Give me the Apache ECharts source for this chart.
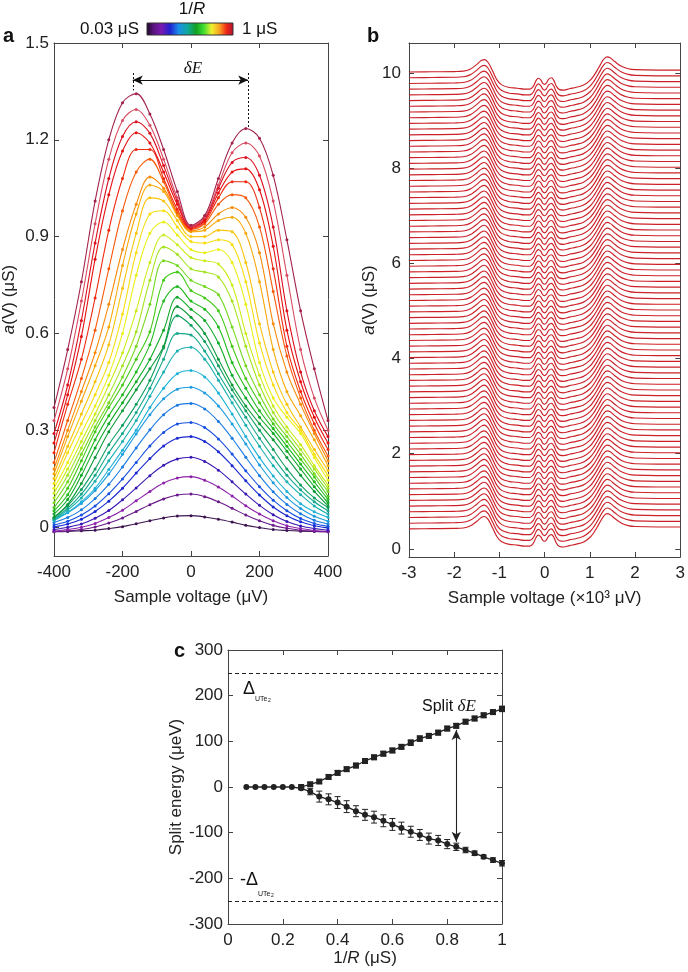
<!DOCTYPE html>
<html>
<head>
<meta charset="utf-8">
<script src="https://cdn.jsdelivr.net/npm/echarts@6/dist/echarts.min.js"></script>
<style>
  html, body { margin: 0; padding: 0; background: #fff; }
  #chart { width: 688px; height: 972px; }
</style>
</head>
<body>
<div id="chart"></div>
<script>
// ---- panel a: a(V) curves, one per 1/R step ----
const aX = [-400, -360, -320, -280, -240, -200, -160, -120, -80, -40, 0, 40, 80, 120, 160, 200, 240, 280, 320, 360, 400]
const a01 = [-0.015, -0.014, -0.012, -0.010, -0.005, 0.001, 0.010, 0.019, 0.028, 0.034, 0.035, 0.031, 0.024, 0.015, 0.005, -0.002, -0.008, -0.011, -0.013, -0.014, -0.015]
const a02 = [-0.014, -0.012, -0.008, 0.000, 0.012, 0.028, 0.048, 0.069, 0.087, 0.099, 0.102, 0.094, 0.078, 0.058, 0.037, 0.019, 0.005, -0.004, -0.010, -0.013, -0.015]
const a03 = [-0.013, -0.008, -0.001, 0.011, 0.029, 0.052, 0.081, 0.110, 0.136, 0.152, 0.156, 0.145, 0.124, 0.096, 0.066, 0.040, 0.019, 0.004, -0.005, -0.011, -0.014]
const a04 = [-0.008, -0.001, 0.009, 0.027, 0.051, 0.084, 0.121, 0.159, 0.191, 0.211, 0.216, 0.203, 0.176, 0.140, 0.102, 0.067, 0.038, 0.017, 0.003, -0.005, -0.010]
const a05 = [0.000, 0.009, 0.024, 0.048, 0.080, 0.120, 0.167, 0.212, 0.251, 0.275, 0.280, 0.265, 0.233, 0.190, 0.143, 0.099, 0.062, 0.035, 0.016, 0.004, -0.003]
const a06 = [0.006, 0.018, 0.037, 0.065, 0.103, 0.149, 0.200, 0.251, 0.293, 0.319, 0.324, 0.308, 0.273, 0.226, 0.174, 0.125, 0.083, 0.050, 0.026, 0.011, 0.002]
const a07 = [0.014, 0.029, 0.053, 0.088, 0.132, 0.186, 0.245, 0.301, 0.348, 0.377, 0.383, 0.366, 0.327, 0.275, 0.216, 0.159, 0.109, 0.070, 0.041, 0.021, 0.009]
const a08 = [0.025, 0.044, 0.073, 0.113, 0.164, 0.225, 0.288, 0.348, 0.397, 0.427, 0.433, 0.415, 0.375, 0.319, 0.257, 0.192, 0.137, 0.091, 0.057, 0.033, 0.018]
const a09 = [0.020, 0.045, 0.078, 0.120, 0.178, 0.238, 0.300, 0.370, 0.430, 0.475, 0.485, 0.465, 0.415, 0.350, 0.280, 0.215, 0.158, 0.110, 0.072, 0.047, 0.030]
const a10 = [0.022, 0.052, 0.090, 0.142, 0.205, 0.265, 0.330, 0.405, 0.480, 0.545, 0.557, 0.520, 0.455, 0.385, 0.315, 0.250, 0.190, 0.140, 0.100, 0.065, 0.040]
const a11 = [0.025, 0.058, 0.102, 0.160, 0.230, 0.290, 0.355, 0.430, 0.520, 0.600, 0.595, 0.545, 0.475, 0.405, 0.340, 0.275, 0.215, 0.160, 0.115, 0.078, 0.050]
const a12 = [0.028, 0.066, 0.116, 0.180, 0.255, 0.315, 0.380, 0.455, 0.555, 0.655, 0.625, 0.575, 0.500, 0.425, 0.360, 0.300, 0.240, 0.180, 0.130, 0.090, 0.060]
const a13 = [0.030, 0.070, 0.135, 0.215, 0.295, 0.360, 0.425, 0.490, 0.560, 0.683, 0.650, 0.600, 0.520, 0.440, 0.375, 0.320, 0.270, 0.215, 0.160, 0.110, 0.065]
const a14 = [0.040, 0.085, 0.160, 0.245, 0.320, 0.385, 0.450, 0.520, 0.610, 0.712, 0.675, 0.640, 0.570, 0.470, 0.400, 0.340, 0.290, 0.235, 0.180, 0.125, 0.075]
const a15 = [0.050, 0.100, 0.180, 0.270, 0.345, 0.410, 0.480, 0.565, 0.700, 0.745, 0.700, 0.675, 0.620, 0.510, 0.430, 0.360, 0.305, 0.250, 0.195, 0.140, 0.085]
const a16 = [0.060, 0.120, 0.205, 0.295, 0.370, 0.440, 0.520, 0.605, 0.765, 0.790, 0.733, 0.710, 0.670, 0.560, 0.460, 0.385, 0.320, 0.265, 0.210, 0.155, 0.095]
const a17 = [0.075, 0.140, 0.225, 0.310, 0.385, 0.465, 0.560, 0.690, 0.825, 0.810, 0.765, 0.745, 0.720, 0.620, 0.500, 0.410, 0.335, 0.280, 0.225, 0.165, 0.110]
const a18 = [0.090, 0.160, 0.245, 0.330, 0.410, 0.500, 0.605, 0.765, 0.868, 0.845, 0.800, 0.790, 0.775, 0.700, 0.560, 0.440, 0.355, 0.295, 0.240, 0.180, 0.120]
const a19 = [0.105, 0.180, 0.265, 0.350, 0.440, 0.540, 0.670, 0.820, 0.905, 0.875, 0.835, 0.825, 0.815, 0.750, 0.600, 0.470, 0.375, 0.310, 0.255, 0.190, 0.130]
const a20 = [0.120, 0.200, 0.290, 0.375, 0.470, 0.600, 0.780, 0.910, 0.945, 0.905, 0.860, 0.850, 0.860, 0.820, 0.690, 0.510, 0.400, 0.340, 0.290, 0.215, 0.145]
const a21 = [0.135, 0.230, 0.320, 0.410, 0.510, 0.660, 0.850, 0.970, 0.980, 0.930, 0.885, 0.880, 0.890, 0.875, 0.760, 0.570, 0.440, 0.355, 0.300, 0.225, 0.160]
const a22 = [0.150, 0.250, 0.350, 0.450, 0.565, 0.740, 0.910, 1.020, 1.010, 0.950, 0.900, 0.900, 0.920, 0.915, 0.820, 0.630, 0.480, 0.380, 0.310, 0.240, 0.175]
const a23 = [0.165, 0.280, 0.390, 0.500, 0.620, 0.810, 0.970, 1.060, 1.040, 0.965, 0.915, 0.920, 0.950, 0.960, 0.910, 0.760, 0.550, 0.420, 0.345, 0.270, 0.190]
const a24 = [0.180, 0.300, 0.420, 0.540, 0.690, 0.860, 1.000, 1.085, 1.050, 0.970, 0.918, 0.930, 0.970, 0.990, 0.960, 0.850, 0.630, 0.480, 0.380, 0.290, 0.205]
const a25 = [0.200, 0.330, 0.460, 0.610, 0.800, 0.980, 1.100, 1.140, 1.070, 0.975, 0.922, 0.940, 1.000, 1.030, 1.020, 0.930, 0.730, 0.530, 0.400, 0.300, 0.220]
const a26 = [0.230, 0.380, 0.520, 0.710, 0.920, 1.080, 1.170, 1.170, 1.080, 0.985, 0.925, 0.945, 1.020, 1.070, 1.070, 0.990, 0.800, 0.560, 0.420, 0.320, 0.240]
const a27 = [0.260, 0.410, 0.590, 0.830, 1.030, 1.165, 1.222, 1.190, 1.100, 1.000, 0.928, 0.950, 1.035, 1.100, 1.110, 1.045, 0.870, 0.610, 0.450, 0.340, 0.260]
const a28 = [0.290, 0.440, 0.640, 0.880, 1.080, 1.210, 1.256, 1.220, 1.120, 1.010, 0.930, 0.955, 1.050, 1.130, 1.145, 1.090, 0.930, 0.670, 0.480, 0.360, 0.280]
const a29 = [0.330, 0.490, 0.700, 0.940, 1.140, 1.260, 1.294, 1.245, 1.140, 1.020, 0.932, 0.960, 1.060, 1.160, 1.190, 1.150, 1.010, 0.780, 0.550, 0.400, 0.300]
const a30 = [0.370, 0.550, 0.760, 1.010, 1.200, 1.315, 1.343, 1.280, 1.170, 1.040, 0.935, 0.965, 1.080, 1.190, 1.235, 1.205, 1.090, 0.890, 0.670, 0.490, 0.330]
const aCurves = [a01, a02, a03, a04, a05, a06, a07, a08, a09, a10, a11, a12, a13, a14, a15,
  a16, a17, a18, a19, a20, a21, a22, a23, a24, a25, a26, a27, a28, a29, a30]
const aTicks = [0, 0.3, 0.6, 0.9, 1.2, 1.5]
// peak positions marked by the deltaE arrow
const aPeaks = [-170, 167]

// ---- panel b: stacked traces (x in 10^3 uV) ----
const bX = [-3, -2.5, -2, -1.8, -1.65, -1.5, -1.4, -1.33, -1.25, -1.15, -1.05, -0.95, -0.8, -0.6, -0.45, -0.33,
  -0.25, -0.19, -0.14, -0.09, -0.04, 0, 0.04, 0.09, 0.15, 0.2, 0.26, 0.33, 0.42, 0.55, 0.7, 0.85, 1.0, 1.1,
  1.2, 1.3, 1.38, 1.45, 1.55, 1.7, 1.85, 2.0, 2.5, 3]
const bProfile = [0, 0.005, 0.01, 0.02, 0.06, 0.16, 0.24, 0.26, 0.20, 0.02, -0.17, -0.27, -0.32, -0.34, -0.36, -0.36,
  -0.30, -0.18, -0.13, -0.16, -0.24, -0.26, -0.23, -0.15, -0.12, -0.17, -0.30, -0.37, -0.38, -0.35, -0.32, -0.28,
  -0.18, -0.06, 0.10, 0.26, 0.32, 0.30, 0.22, 0.12, 0.07, 0.05, 0.04, 0.04]
const bOffsets = [0.42, 0.54, 0.66, 0.78, 0.90, 1.02, 1.14, 1.26, 1.38, 1.50, 1.62, 1.74, 1.86, 1.98, 2.10, 2.22,
  2.34, 2.46, 2.58, 2.70, 2.82, 2.94, 3.06, 3.18, 3.30, 3.42, 3.54, 3.66, 3.78, 3.90, 4.02, 4.14, 4.26, 4.38,
  4.50, 4.62, 4.74, 4.86, 4.98, 5.10, 5.22, 5.34, 5.46, 5.58, 5.70, 5.82, 5.94, 6.06, 6.18, 6.30, 6.42, 6.54,
  6.66, 6.78, 6.90, 7.02, 7.14, 7.26, 7.38, 7.50, 7.62, 7.74, 7.86, 7.98, 8.10, 8.22, 8.34, 8.46, 8.58, 8.70,
  8.82, 8.94, 9.06, 9.18, 9.30, 9.42, 9.54, 9.66, 9.78, 9.90, 10.02]
const bTicks = [0, 2, 4, 6, 8, 10]

// ---- panel c: split energy vs 1/R ----
const cX = [0.067, 0.1, 0.133, 0.167, 0.2, 0.233, 0.267, 0.3, 0.333, 0.367, 0.4, 0.433, 0.467, 0.5, 0.533,
  0.567, 0.6, 0.633, 0.667, 0.7, 0.733, 0.767, 0.8, 0.833, 0.867, 0.9, 0.933, 0.967, 1.0]
const cUpper = [0, 0, 0, 0, 0, 0, 0, 6, 12, 22, 31, 39, 47, 57, 65, 73, 80, 88, 97, 106, 112, 119, 128, 134, 143, 150, 157, 164, 171]
const cUpperErr = [0, 0, 0, 0, 0, 0, 2, 4, 4, 5, 5, 5, 5, 5, 5, 5, 5, 5, 6, 6, 5, 5, 5, 5, 5, 5, 5, 5, 6]
const cLower = [0, 0, 0, 0, 0, 0, -3, -10, -21, -27, -34, -43, -53, -61, -66, -74, -82, -90, -98, -105, -113, -117, -125, -131, -138, -145, -153, -160, -167]
const cLowerErr = [0, 0, 0, 0, 0, 0, 3, 7, 12, 12, 13, 13, 12, 12, 13, 13, 13, 13, 12, 12, 12, 11, 10, 8, 6, 5, 4, 5, 6]
const cGap = [250, -250]
const cArrow = { x: 0.833, from: 125, to: -120 }

// ---- styles ----
const FONT = '"Liberation Sans", Arial, sans-serif'
const SERIF = '"Liberation Serif", "DejaVu Serif", serif'
const aColors = ['#3c1450', '#6a1a8a', '#8c22aa', '#3a18b4', '#1a2ad0', '#1850e2', '#1a7ae2', '#1e9ce0',
  '#1eb2d6', '#1cb0b0', '#16a88c', '#12a062', '#0e9a3a', '#10aa28', '#22ba20', '#46ca18', '#74d820',
  '#a4e420', '#ccec1c', '#eaf016', '#f8de10', '#f8c40e', '#f8a808', '#f88a08', '#f85a0a', '#f02a10',
  '#e61010', '#dc1020', '#d84a62', '#a2224a']
const bColor = '#cc2129'
const ink = '#222'
const FS = 17

const chart = echarts.init(document.getElementById('chart'))

const tickStyle = { inside: true, length: 5, lineStyle: { color: '#444' } }
const lineStyle = { onZero: false, lineStyle: { color: '#444', width: 1 } }
const labelStyle = { fontFamily: FONT, fontSize: FS, color: ink }

function xPair(grid, min, max, interval, name, nameGap, margin, rich) {
  return [
    {
      gridIndex: grid, type: 'value', min, max, interval, position: 'bottom',
      axisLine: lineStyle, axisTick: tickStyle, splitLine: { show: false },
      axisLabel: { ...labelStyle, margin },
      name, nameLocation: 'middle', nameGap,
      nameTextStyle: { fontFamily: FONT, fontSize: FS, color: ink, rich },
    },
    {
      gridIndex: grid, type: 'value', min, max, interval, position: 'top',
      axisLine: lineStyle, axisTick: tickStyle, splitLine: { show: false },
      axisLabel: { show: false },
    },
  ]
}

function yPair(grid, min, max, ticks, name, nameGap, margin, rich) {
  const t = ticks ? { customValues: ticks } : {}
  return [
    {
      gridIndex: grid, type: 'value', min, max, position: 'left',
      interval: ticks ? undefined : 100,
      axisLine: lineStyle, axisTick: { ...tickStyle, ...t }, splitLine: { show: false },
      axisLabel: { ...labelStyle, margin, ...t },
      name, nameLocation: 'middle', nameGap, nameRotate: 90,
      nameTextStyle: { fontFamily: FONT, fontSize: FS, color: ink, rich },
    },
    {
      gridIndex: grid, type: 'value', min, max, position: 'right',
      interval: ticks ? undefined : 100,
      axisLine: lineStyle, axisTick: { ...tickStyle, ...t }, splitLine: { show: false },
      axisLabel: { show: false },
    },
  ]
}

const italic = { i: { fontFamily: FONT, fontSize: FS, fontStyle: 'italic', color: ink } }

const xAxes = [
  ...xPair(0, -400, 400, 200, 'Sample voltage (μV)', 33, 8),
  ...xPair(1, -3, 3, 1, 'Sample voltage (×10³ μV)', 33, 8),
  ...xPair(2, 0, 1, 0.2, '1/{i|R} (μS)', 25, 8, italic),
]
const yAxes = [
  ...yPair(0, -0.09, 1.5, aTicks, '{i|a}(V) (μS)', 36, 5, italic),
  ...yPair(1, -0.17, 10.63, bTicks, '{i|a}(V) (μS)', 28, 8, italic),
  ...yPair(2, -300, 300, null, 'Split energy (μeV)', 40, 5),
]

const series = []

// panel a
aCurves.forEach((c, i) => {
  const s = {
    type: 'line', xAxisIndex: 0, yAxisIndex: 0,
    data: aX.map((x, j) => [x, c[j]]),
    smooth: 0.35, symbol: 'circle', symbolSize: 3, showSymbol: true,
    lineStyle: { width: 1.1, color: aColors[i] },
    itemStyle: { color: aColors[i] },
    silent: true,
  }
  if (i === aCurves.length - 1) {
    const top = 1.407, arrowY = 1.385
    s.markLine = {
      silent: true, symbol: ['none', 'none'], label: { show: false },
      lineStyle: { color: '#111', width: 1.2, type: 'solid' },
      data: [
        [{ coord: [aPeaks[0], arrowY], symbol: 'arrow', symbolSize: [7, 10] },
         { coord: [aPeaks[1], arrowY], symbol: 'arrow', symbolSize: [7, 10] }],
        [{ coord: [aPeaks[0], top], lineStyle: { type: [2, 2], width: 1 } },
         { coord: [aPeaks[0], c[6] + 0.01] }],
        [{ coord: [aPeaks[1], top], lineStyle: { type: [2, 2], width: 1 } },
         { coord: [aPeaks[1], c[14] + 0.005] }],
      ],
    }
  }
  series.push(s)
})

// panel b
bOffsets.forEach((o) => {
  series.push({
    type: 'line', xAxisIndex: 2, yAxisIndex: 2,
    data: bX.map((x, j) => [x, bProfile[j] + o]),
    smooth: 0.4, symbol: 'none', silent: true,
    lineStyle: { width: 1.15, color: bColor },
  })
})

// panel c
const errBar = (params, api) => {
  const x = api.value(0), y = api.value(1), e = api.value(2)
  if (!e) return null
  const a = api.coord([x, y + e]), b = api.coord([x, y - e])
  const w = 3
  const st = { stroke: ink, lineWidth: 1 }
  return {
    type: 'group',
    children: [
      { type: 'line', shape: { x1: a[0], y1: a[1], x2: b[0], y2: b[1] }, style: st },
      { type: 'line', shape: { x1: a[0] - w, y1: a[1], x2: a[0] + w, y2: a[1] }, style: st },
      { type: 'line', shape: { x1: b[0] - w, y1: b[1], x2: b[0] + w, y2: b[1] }, style: st },
    ],
  }
}
series.push({
  type: 'custom', xAxisIndex: 4, yAxisIndex: 4, renderItem: errBar, silent: true,
  data: cX.map((x, i) => [x, cLower[i], cLowerErr[i]]), encode: { x: 0, y: 1 }, z: 3,
})
series.push({
  type: 'custom', xAxisIndex: 4, yAxisIndex: 4, renderItem: errBar, silent: true,
  data: cX.map((x, i) => [x, cUpper[i], cUpperErr[i]]), encode: { x: 0, y: 1 }, z: 3,
})
series.push({
  type: 'line', xAxisIndex: 4, yAxisIndex: 4, silent: true, z: 4,
  data: cX.slice(6).map((x, i) => [x, cUpper[i + 6]]),
  symbol: 'rect', symbolSize: 6, lineStyle: { color: ink, width: 1.3 }, itemStyle: { color: ink },
})
series.push({
  type: 'line', xAxisIndex: 4, yAxisIndex: 4, silent: true, z: 5,
  data: cX.map((x, i) => [x, cLower[i]]),
  symbol: 'circle', symbolSize: 6, lineStyle: { color: ink, width: 1.3 }, itemStyle: { color: ink },
  markLine: {
    silent: true, symbol: ['none', 'none'], label: { show: false },
    lineStyle: { color: ink, width: 1, type: [4, 3] },
    data: [
      { yAxis: cGap[0] },
      { yAxis: cGap[1] },
      [{ coord: [cArrow.x, cArrow.from], symbol: 'arrow', symbolSize: [7, 10], lineStyle: { type: 'solid', width: 1.1 } },
       { coord: [cArrow.x, cArrow.to], symbol: 'arrow', symbolSize: [7, 10] }],
    ],
  },
})

function txt(x, y, text, font, align, extra) {
  return {
    type: 'text', x, y, silent: true,
    style: Object.assign({ text, font, fill: '#111', textAlign: align || 'left', align: align || 'left',
      textVerticalAlign: 'middle', verticalAlign: 'middle' }, extra || {}),
  }
}

const graphic = [
  txt(3, 36, 'a', 'bold 20px ' + FONT),
  txt(367, 36, 'b', 'bold 20px ' + FONT),
  txt(174, 651, 'c', 'bold 20px ' + FONT),
  // colour bar
  {
    type: 'rect', silent: true,
    shape: { x: 147, y: 23, width: 86, height: 12 },
    style: {
      stroke: '#333', lineWidth: 1,
      fill: new echarts.graphic.LinearGradient(0, 0, 1, 0, [
        { offset: 0, color: '#1a0820' }, { offset: 0.08, color: '#5a1480' }, { offset: 0.17, color: '#7a1ab0' },
        { offset: 0.27, color: '#2020d0' }, { offset: 0.37, color: '#1a90e8' }, { offset: 0.47, color: '#10a8a0' },
        { offset: 0.57, color: '#10a024' }, { offset: 0.66, color: '#40e030' }, { offset: 0.75, color: '#f0f030' },
        { offset: 0.84, color: '#f8a020' }, { offset: 0.92, color: '#f02818' }, { offset: 1, color: '#b01030' },
      ]),
    },
  },
  txt(139, 29, '0.03 μS', '17px ' + FONT, 'right'),
  txt(242, 29, '1 μS', '17px ' + FONT, 'left'),
  txt(192, 9, '1/{i|R}', '17px ' + FONT, 'center', { rich: { i: { font: 'italic 17px ' + FONT } } }),
  txt(193, 69, 'δE', 'italic 17px ' + SERIF, 'center'),
  // panel c labels
  txt(422, 707, 'Split {e|δE}', '16px ' + FONT, 'left', { rich: { e: { font: 'italic 17px ' + SERIF } } }),
  txt(243, 689, 'Δ', '18px ' + FONT, 'left'),
  txt(255, 699, 'UTe', '7px ' + FONT, 'left'),
  txt(268, 701, '2', '5px ' + FONT, 'left'),
  txt(240, 880, '-Δ', '18px ' + FONT, 'left'),
  txt(258, 894, 'UTe', '7px ' + FONT, 'left'),
  txt(271, 896, '2', '5px ' + FONT, 'left'),
]

chart.setOption({
  animation: false,
  backgroundColor: '#fff',
  textStyle: { fontFamily: FONT },
  grid: [
    { left: 54, top: 43, width: 274, height: 513 },
    { left: 409, top: 43, width: 274, height: 514 },
    { left: 228, top: 650, width: 274, height: 274 },
  ],
  xAxis: xAxes,
  yAxis: yAxes,
  series,
  graphic,
})
</script>
</body>
</html>
